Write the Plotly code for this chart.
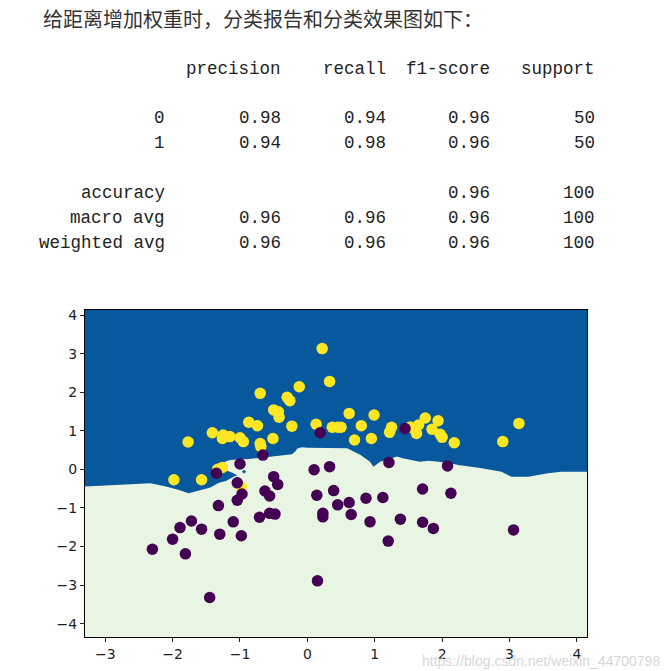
import plotly.graph_objects as go

# ---------------- data ----------------
title_text = "给距离增加权重时，分类报告和分类效果图如下："

report_header = ["precision", "recall", "f1-score", "support"]
report_labels = ["0", "1", "accuracy", "macro avg", "weighted avg"]
precision = [0.98, 0.94, None, 0.96, 0.96]
recall = [0.94, 0.98, None, 0.96, 0.96]
f1_score = [0.96, 0.96, 0.96, 0.96, 0.96]
support = [50, 50, 100, 100, 100]

# class 1 (yellow) points
yellow_x = [0.22, 0.33, -0.12, -0.70, -0.30, -0.26, -0.50, -0.43, -0.42, -0.87,
            -0.74, -0.23, 0.13, -1.41, -1.25, -1.26, -1.15, -1.00, -0.95, -1.77,
            -0.70, -0.69, -0.51, 0.62, 0.99, 0.37, 0.45, 0.50, 0.80, 0.70,
            0.95, 1.25, 1.22, 1.53, 1.60, 1.62, 1.75, 1.94, 1.65, 1.85,
            1.97, 2.00, 2.18, 2.90, 3.14, -1.98, -1.57, -1.33, -1.26, -0.98]
yellow_y = [3.13, 2.28, 2.14, 1.97, 1.87, 1.78, 1.54, 1.49, 1.35, 1.22,
            1.13, 1.12, 1.17, 0.95, 0.89, 0.80, 0.85, 0.82, 0.72, 0.71,
            0.67, 0.59, 0.80, 1.45, 1.41, 1.09, 1.09, 1.09, 1.13, 0.76,
            0.80, 1.09, 0.96, 1.10, 1.02, 0.93, 1.33, 1.26, 1.15, 1.04,
            0.91, 0.83, 0.69, 0.72, 1.19, -0.27, -0.27, 0.00, 0.05, -0.45]

# class 0 (purple) points
purple_x = [1.45, 0.19, -0.66, 2.08, -1.35, -1.00, -1.04, -0.97, -1.04, -1.32,
            -0.50, -0.44, -0.63, -0.56, -0.71, -0.56, -0.48, -1.10, -1.30, -0.98,
            -1.72, -1.89, -1.57, -2.00, -2.30, -1.81, -1.45, 0.10, 0.33, 0.14,
            0.39, 0.45, 0.62, 0.23, 0.23, 0.15, 1.21, 0.65, 0.87, 1.12,
            0.93, 1.38, 1.20, 1.71, 2.13, 1.71, 1.87, 3.06]
purple_y = [1.06, 0.95, 0.37, 0.09, -0.10, 0.14, -0.35, -0.64, -0.80, -0.94,
            -0.19, -0.39, -0.56, -0.69, -1.24, -1.14, -1.16, -1.36, -1.68, -1.72,
            -1.34, -1.51, -1.55, -1.81, -2.07, -2.19, -3.32, -0.01, 0.07, -0.67,
            -0.55, -0.92, -0.86, -1.14, -1.23, -2.89, 0.18, -1.17, -0.75, -0.73,
            -1.36, -1.29, -1.86, -0.51, -0.62, -1.37, -1.53, -1.57]

# decision region of class 0 (light)
region0_x = [-3.4, -2.82, -2.33, -2.13, -1.93, -1.76, -1.61, -1.44, -1.31, -1.21,
             -1.10, -1.04, -1.12, -1.20, -1.34, -1.27, -1.22, -1.15, -0.87, -0.52,
             -0.23, -0.18, -0.15, -0.08, 0.00, 0.59, 0.64, 0.79, 0.93, 0.98,
             1.08, 1.23, 1.33, 1.43, 1.67, 1.80, 2.09, 2.24, 2.59, 2.88,
             3.03, 3.28, 3.57, 3.77, 4.3, 4.3, -3.4]
region0_y = [-0.45, -0.41, -0.36, -0.43, -0.52, -0.62, -0.55, -0.47, -0.35, -0.30,
             -0.20, -0.15, -0.08, -0.03, 0.02, 0.12, 0.20, 0.24, 0.27, 0.33,
             0.39, 0.46, 0.54, 0.57, 0.56, 0.55, 0.50, 0.37, 0.20, 0.07,
             0.20, 0.28, 0.33, 0.28, 0.20, 0.22, 0.17, 0.11, 0.03, -0.06,
             -0.19, -0.19, -0.10, -0.06, -0.06, -4.5, -4.5]

# small island of class 1 inside class 0 region
island_x = [-0.97, -0.94, -0.91, -0.94, -0.97]
island_y = [-0.06, -0.02, -0.06, -0.10, -0.06]

x_range = [-3.30, 4.15]
y_range = [-4.345, 4.13]

watermark = "https://blog.csdn.net/weixin_44700798"

# ---------------- style ----------------
W, H = 670, 671
L, R, T, B = 85, 587, 310, 637
BLUE = "#08589e"
LIGHT = "#e8f5e2"
YELLOW = "#fde725"
PURPLE = "#440154"


def px(xp):
    return (xp - L) / (R - L)


def py(yp):
    return (B - yp) / (B - T)


fig = go.Figure()

fig.add_trace(go.Scatter(x=region0_x, y=region0_y, mode="lines", fill="toself",
                         fillcolor=LIGHT, line=dict(width=0, color=LIGHT),
                         hoverinfo="skip", showlegend=False))
fig.add_trace(go.Scatter(x=island_x, y=island_y, mode="lines", fill="toself",
                         fillcolor=BLUE, line=dict(width=0.5, color=BLUE),
                         hoverinfo="skip", showlegend=False))
fig.add_trace(go.Scatter(x=yellow_x, y=yellow_y, mode="markers",
                         marker=dict(size=11.5, color=YELLOW, line=dict(width=0)),
                         showlegend=False))
fig.add_trace(go.Scatter(x=purple_x, y=purple_y, mode="markers",
                         marker=dict(size=11.5, color=PURPLE, line=dict(width=0)),
                         showlegend=False))

ann = []
ann.append(dict(text=title_text, x=px(41), y=py(18), xref="paper", yref="paper",
                xanchor="left", yanchor="middle", showarrow=False,
                font=dict(family="Noto Sans CJK SC", size=20, color="#333333")))

mono = dict(family="Liberation Mono", size=17.5, color="#222222")
col_right = [167, 283, 388, 492, 597]
header_y = 69
row_y = [118, 143, 193, 218, 243]

for j, h in enumerate(report_header):
    ann.append(dict(text=h, x=px(col_right[j + 1]), y=py(header_y), xref="paper",
                    yref="paper", xanchor="right", yanchor="middle",
                    showarrow=False, font=mono))

for i, lab in enumerate(report_labels):
    cells = [lab,
             "" if precision[i] is None else f"{precision[i]:.2f}",
             "" if recall[i] is None else f"{recall[i]:.2f}",
             "" if f1_score[i] is None else f"{f1_score[i]:.2f}",
             str(support[i])]
    for j, c in enumerate(cells):
        if c == "":
            continue
        ann.append(dict(text=c, x=px(col_right[j]), y=py(row_y[i]), xref="paper",
                        yref="paper", xanchor="right", yanchor="middle",
                        showarrow=False, font=mono))

ann.append(dict(text=watermark, x=px(662), y=py(661), xref="paper", yref="paper",
                xanchor="right", yanchor="middle", showarrow=False,
                font=dict(family="Liberation Sans", size=14,
                          color="rgba(200,200,200,0.75)")))

axis_common = dict(showgrid=False, zeroline=False, showline=True, mirror=True,
                   linecolor="#000000", linewidth=1, ticks="outside", ticklen=4,
                   tickwidth=1, tickcolor="#222222", dtick=1,
                   automargin=False,
                   tickfont=dict(family="DejaVu Sans", size=14, color="#1e1e1e"))

fig.update_layout(
    width=W, height=H,
    margin=dict(l=L, r=W - R, t=T, b=H - B, pad=0, autoexpand=False),
    paper_bgcolor="white", plot_bgcolor=BLUE,
    xaxis=dict(range=x_range, tick0=0, **axis_common),
    yaxis=dict(range=y_range, tick0=0, **axis_common),
    annotations=ann,
    showlegend=False,
)

fig.write_html("out.html")
